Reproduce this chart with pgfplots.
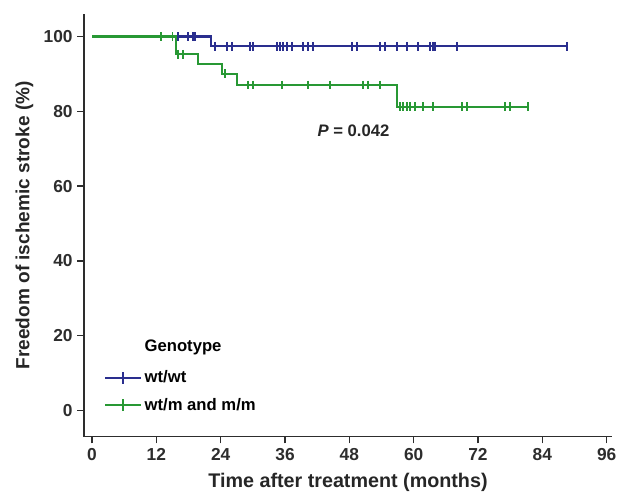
\documentclass[border=0pt]{standalone}
\usepackage{pgfplots}
\pgfplotsset{compat=1.18}
\usepackage{fontspec}
\setmainfont{Liberation Sans}
\definecolor{kmblue}{RGB}{42,46,142}
\definecolor{kmgreen}{RGB}{40,152,52}
\definecolor{axgray}{RGB}{45,45,45}

\begin{document}
\begin{tikzpicture}
\begin{axis}[
  scale only axis,
  width=396pt,
  height=317pt,
  xmin=-1.5, xmax=97,
  ymin=-7, ymax=106,
  axis lines*=left,
  axis line style={axgray, line width=1.1pt},
  tick align=outside,
  major tick length=5pt,
  tick style={axgray, line width=1.1pt},
  xtick={0,12,...,96},
  ytick={0,20,...,100},
  /pgf/number format/assume math mode=true,
  tick label style={font=\fontsize{13}{15}\selectfont\bfseries, text=axgray},
  xlabel={Time after treatment (months)},
  ylabel={Freedom of ischemic stroke (\%)},
  xlabel style={font=\fontsize{14.8}{17}\selectfont\bfseries, text=black!85, yshift=-3pt},
  ylabel style={font=\fontsize{14.3}{17}\selectfont\bfseries, text=black!85, yshift=1pt},
  legend cell align=left,
  legend style={at={(axis description cs:0.03,0.045)}, anchor=south west,
    draw=none, fill=none, font=\fontsize{12.5}{15}\selectfont\bfseries,
    row sep=6pt},
  legend image code/.code={
    \draw[#1, line width=1.4pt] (0pt,0pt) -- (27pt,0pt);
    \draw[#1, line width=1.4pt] (13.5pt,-4.5pt) -- (13.5pt,4.5pt);
  },
]
\coordinate (sw) at (rel axis cs:0,0);
\coordinate (ne) at (rel axis cs:1,1);

% wt/wt
\addplot[const plot, draw=kmblue, line width=1.6pt, forget plot]
  coordinates {(0,100) (22.2,97.4) (88.6,97.4)};
\addplot[only marks, mark=|, mark size=3.3pt, kmblue, mark options={line width=1.4pt}, forget plot]
  coordinates {
  (16.0,100) (17.9,100) (18.8,100) (19.2,100)
  (23.0,97.4) (25.2,97.4) (26.1,97.4) (29.5,97.4) (30.0,97.4) (34.5,97.4)
  (35.1,97.4) (35.6,97.4) (36.4,97.4) (37.3,97.4) (39.4,97.4) (40.3,97.4)
  (41.2,97.4) (48.5,97.4) (49.4,97.4) (53.7,97.4) (54.6,97.4) (56.9,97.4)
  (58.8,97.4) (60.8,97.4) (63.1,97.4) (63.6,97.4) (64.0,97.4) (68.1,97.4)
  (88.6,97.4)};

% wt/m and m/m
\addplot[const plot, draw=kmgreen, line width=1.6pt, forget plot]
  coordinates {(0,100) (15.7,95.2) (19.8,92.6) (24.3,90.0) (27.0,87.0) (56.9,81.2) (81.3,81.2)};
\addplot[only marks, mark=|, mark size=3.3pt, kmgreen, mark options={line width=1.4pt}, forget plot]
  coordinates {
  (12.9,100) (15.0,100)
  (16.0,95.2) (17.0,95.2)
  (24.8,90.0)
  (29.1,87.0) (30.0,87.0) (35.4,87.0) (40.3,87.0) (44.4,87.0) (50.6,87.0)
  (51.5,87.0) (53.7,87.0)
  (57.5,81.2) (58.0,81.2) (58.8,81.2) (59.3,81.2) (60.3,81.2) (61.8,81.2)
  (63.6,81.2) (69.0,81.2) (70.0,81.2) (77.1,81.2) (78.0,81.2) (81.3,81.2)};

\addlegendimage{empty legend}
\addlegendentry{\raisebox{3pt}{Genotype}}
\addlegendimage{kmblue}
\addlegendentry{wt/wt}
\addlegendimage{kmgreen}
\addlegendentry{wt/m and m/m}

\node[anchor=west, font=\fontsize{12.5}{15}\selectfont\bfseries, text=black!85]
  at (axis cs:41.2,74.9) {\textit{P} = 0.042};
\end{axis}
\path ([shift={(-63pt,-41.25pt)}]sw) rectangle ([shift={(8.25pt,10.5pt)}]ne);
\end{tikzpicture}
\end{document}
